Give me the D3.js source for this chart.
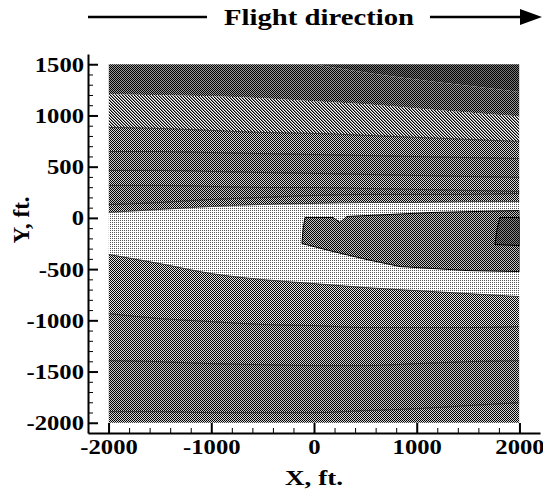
<!DOCTYPE html>
<html>
<head>
<meta charset="utf-8">
<script src="https://cdn.jsdelivr.net/npm/d3@7"></script>
<style>
  body { margin: 0; background: #fff; }
  text { font-family: "Liberation Serif", "Times New Roman", serif; font-weight: bold; fill: #000; }
</style>
</head>
<body>
<script>
const width = 543;
const height = 493;

// contour lines: y (ft) read at each x knot
const xKnots = [-2000, -1500, -1000, -500, 0, 500, 1000, 1500, 2000];
const lineA = [1700, 1700, 1650, 1580, 1500, 1420, 1350, 1290, 1230];
const lineB = [1206, 1197, 1187, 1167, 1138, 1109, 1069, 1030, 991];
const lineC = [883, 873, 854, 834, 825, 806, 786, 766, 747];
const lineD = [648, 648, 638, 628, 619, 609, 599, 589, 580];
const lineE = [463, 463, 453, 443, 434, 424, 414, 404, 395];
const lineF = [317, 317, 307, 297, 297, 287, 278, 268, 258];
const lineG = [130, 150, 180, 199, 219, 229, 229, 229, 239];
const lineH = [53, 82, 111, 131, 141, 150, 150, 160, 160];
const lineI = [-356, -446, -543, -602, -641, -680, -710, -739, -768];
const lineJ = [-934, -983, -1012, -1041, -1051, -1071, -1071, -1071, -1061];
const lineK = [-1394, -1403, -1423, -1433, -1442, -1442, -1423, -1403, -1394];
const lineL = [-1892, -1892, -1902, -1902, -1902, -1882, -1863, -1833, -1804];

// closed contours behind the aircraft
const blobX = [-88, 185, 253, 321, 1158, 2000, 2000, 1489, 837, 516, 185, -117, -107];
const blobY = [4, 4, -45, 14, 53, 72, -524, -514, -475, -407, -328, -250, -113];
const capX = [1810, 2000, 2000, 1762, 1781];
const capY = [4, 4, -270, -260, -113];

const xMajor = [-2000, -1000, 0, 1000, 2000];
const yMajor = [-2000, -1500, -1000, -500, 0, 500, 1000, 1500];

const svg = d3.select("body").append("svg")
  .attr("width", width)
  .attr("height", height);

const x = d3.scaleLinear().domain([-2200, 2200]).range([88, 540]);
const y = d3.scaleLinear().domain([-2100, 1600]).range([433, 54]);

// dither patterns, one per level
const defs = svg.append("defs");
function addPattern(id, size, cells) {
  const p = defs.append("pattern")
    .attr("id", id)
    .attr("patternUnits", "userSpaceOnUse")
    .attr("width", size)
    .attr("height", size);
  cells.forEach(c => {
    p.append("rect")
      .attr("x", c[0]).attr("y", c[1])
      .attr("width", 1).attr("height", 1)
      .attr("fill", c[2])
      .attr("shape-rendering", "crispEdges");
  });
}
const checker = (a, b) => [[0, 0, a], [1, 1, a], [1, 0, b], [0, 1, b]];
addPattern("pDark2", 2, checker("#000", "#777"));
addPattern("pDark1", 2, checker("#000", "#9a9a9a"));
addPattern("pDiag", 3, [
  [0, 0, "#000"], [1, 1, "#000"], [2, 2, "#000"],
  [1, 0, "#888"], [2, 1, "#888"], [0, 2, "#888"],
  [2, 0, "#fff"], [0, 1, "#fff"], [1, 2, "#fff"]
]);
addPattern("pChk1", 2, checker("#000", "#d4d4d4"));
addPattern("pChk2", 2, checker("#000", "#c4c4c4"));
addPattern("pChk3", 2, checker("#000", "#e4e4e4"));
addPattern("pLight", 2, [[0, 0, "#555"], [1, 1, "#fff"], [1, 0, "#fff"], [0, 1, "#fff"]]);
addPattern("pBlob", 2, checker("#000", "#c2c2c2"));
addPattern("pCap", 2, checker("#000", "#888"));

defs.append("clipPath").attr("id", "plotClip")
  .append("rect")
  .attr("x", x(-2000)).attr("y", y(1500))
  .attr("width", x(2000) - x(-2000))
  .attr("height", y(-2000) - y(1500));

const topEdge = xKnots.map(() => 1700);
const bottomEdge = xKnots.map(() => -2100);
const bounds = [topEdge, lineA, lineB, lineC, lineD, lineE, lineF, lineG, lineH, lineI, lineJ, lineK, lineL, bottomEdge];
const bandFills = ["pDark2", "pDark1", "pDiag", "pChk1", "pChk2", "pChk1", "pChk2", "pChk1", "pLight", "pChk3", "pChk1", "pChk2", "pChk1"];

const plot = svg.append("g").attr("clip-path", "url(#plotClip)");

const area = d3.area()
  .x(d => x(d.x))
  .y0(d => y(d.lo))
  .y1(d => y(d.hi))
  .curve(d3.curveMonotoneX);

bandFills.forEach((fill, i) => {
  const pts = xKnots.map((k, j) => ({ x: k, hi: bounds[i][j], lo: bounds[i + 1][j] }));
  plot.append("path")
    .attr("d", area(pts))
    .attr("fill", `url(#${fill})`);
});

const line = d3.line()
  .x(d => x(d[0]))
  .y(d => y(d[1]))
  .curve(d3.curveMonotoneX);

[lineC, lineD, lineE, lineF, lineG, lineH, lineI, lineJ, lineK, lineL].forEach(ln => {
  plot.append("path")
    .attr("d", line(xKnots.map((k, j) => [k, ln[j]])))
    .attr("fill", "none")
    .attr("stroke", "#000")
    .attr("stroke-opacity", 0.65)
    .attr("stroke-width", 1);
});

const poly = d3.line().x(d => x(d[0])).y(d => y(d[1])).curve(d3.curveLinearClosed);
plot.append("path")
  .attr("d", poly(blobX.map((v, i) => [v, blobY[i]])))
  .attr("fill", "url(#pBlob)")
  .attr("stroke", "#000")
  .attr("stroke-width", 1);
plot.append("path")
  .attr("d", poly(capX.map((v, i) => [v, capY[i]])))
  .attr("fill", "url(#pCap)")
  .attr("stroke", "#000")
  .attr("stroke-width", 1);

// axes
const stretch = sel => sel.each(function() {
  const len = this.getComputedTextLength();
  d3.select(this).attr("textLength", len * 1.12).attr("lengthAdjust", "spacingAndGlyphs");
});

const gx = svg.append("g").attr("transform", `translate(0,${y(-2100)})`);
gx.call(d3.axisBottom(x)
  .tickValues(d3.range(-2000, 2001, 200).filter(v => v % 1000 !== 0))
  .tickSize(-5).tickFormat(""))
  .call(g => g.select(".domain").remove())
  .call(g => g.selectAll("line").attr("stroke", "#000").attr("stroke-width", 1));
gx.append("g").call(d3.axisBottom(x)
  .tickValues(xMajor).tickSizeInner(-10).tickSizeOuter(0).tickPadding(5)
  .tickFormat(d => d))
  .call(g => g.select(".domain").attr("stroke", "#000").attr("stroke-width", 2))
  .call(g => g.selectAll("line").attr("stroke", "#000").attr("stroke-width", 2))
  .call(g => g.selectAll("text").attr("font-size", 22).attr("font-family", null).call(stretch));

const gy = svg.append("g").attr("transform", `translate(${x(-2200)},0)`);
gy.call(d3.axisLeft(y)
  .tickValues(d3.range(-2000, 1501, 100).filter(v => v % 500 !== 0))
  .tickSize(-5).tickFormat(""))
  .call(g => g.select(".domain").remove())
  .call(g => g.selectAll("line").attr("stroke", "#000").attr("stroke-width", 1));
gy.append("g").call(d3.axisLeft(y)
  .tickValues(yMajor).tickSizeInner(-10).tickSizeOuter(0).tickPadding(4)
  .tickFormat(d => d))
  .call(g => g.select(".domain").attr("stroke", "#000").attr("stroke-width", 2))
  .call(g => g.selectAll("line").attr("stroke", "#000").attr("stroke-width", 2))
  .call(g => g.selectAll("text").attr("font-size", 22).attr("font-family", null).call(stretch));

// axis titles
svg.append("text")
  .attr("x", 314).attr("y", 485)
  .attr("text-anchor", "middle")
  .attr("font-size", 22)
  .attr("textLength", 58).attr("lengthAdjust", "spacingAndGlyphs")
  .text("X, ft.");

svg.append("text")
  .attr("transform", "translate(29,220) rotate(-90)")
  .attr("text-anchor", "middle")
  .attr("font-size", 23)
  .text("Y, ft.");

// flight direction banner
svg.append("text")
  .attr("x", 319).attr("y", 25)
  .attr("text-anchor", "middle")
  .attr("font-size", 24)
  .attr("textLength", 190).attr("lengthAdjust", "spacingAndGlyphs")
  .text("Flight direction");
svg.append("line")
  .attr("x1", 88).attr("x2", 207).attr("y1", 17).attr("y2", 17)
  .attr("stroke", "#000").attr("stroke-width", 2.5);
svg.append("line")
  .attr("x1", 430).attr("x2", 526).attr("y1", 17).attr("y2", 17)
  .attr("stroke", "#000").attr("stroke-width", 2.5);
svg.append("path")
  .attr("d", "M520,9L542,17L520,25Z")
  .attr("fill", "#000");
</script>
</body>
</html>
